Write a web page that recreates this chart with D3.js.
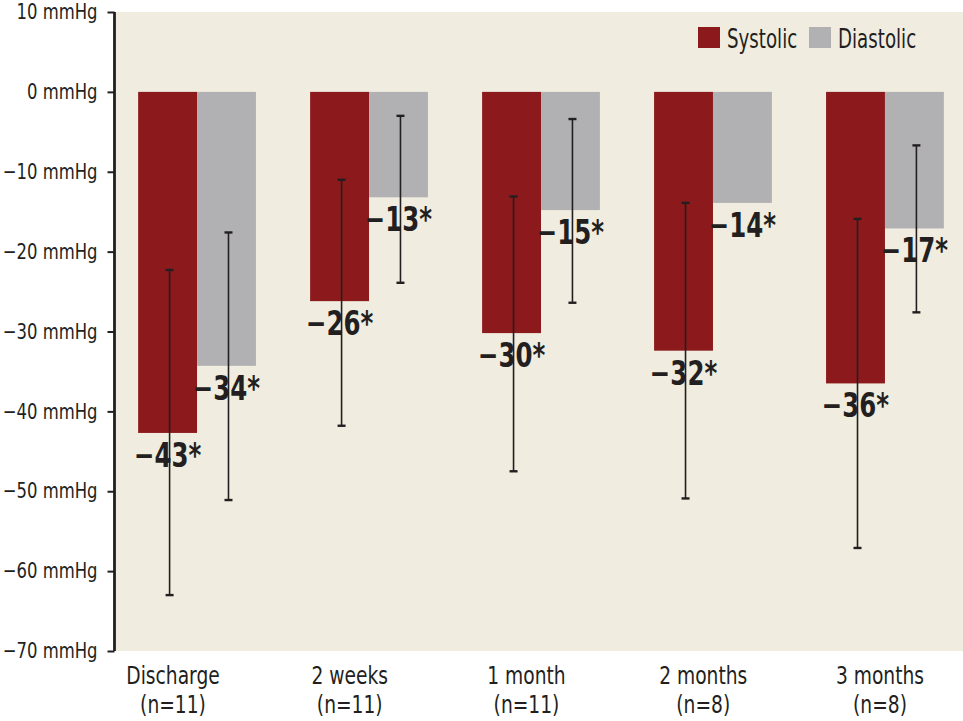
<!DOCTYPE html>
<html>
<head>
<meta charset="utf-8">
<script src="https://cdn.jsdelivr.net/npm/d3@7"></script>
<style>
  body { margin: 0; background: #fff; }
  svg text { font-family: "DejaVu Sans Condensed", "Liberation Sans Narrow", sans-serif; fill: #231f20; }
</style>
</head>
<body>
<svg id="chart" width="963" height="721"></svg>
<script>
// data
const categories = ["Discharge", "2 weeks", "1 month", "2 months", "3 months"];
const sampleSizes = ["(n=11)", "(n=11)", "(n=11)", "(n=8)", "(n=8)"];
const series = ["Systolic", "Diastolic"];
const systolic = [-42.7, -26.2, -30.2, -32.4, -36.5];
const diastolic = [-34.3, -13.2, -14.8, -13.9, -17.1];
const systolicLow = [-63.0, -41.8, -47.5, -50.9, -57.1];
const systolicHigh = [-22.3, -11.0, -13.1, -13.9, -15.9];
const diastolicLow = [-51.1, -23.9, -26.4, null, -27.6];
const diastolicHigh = [-17.6, -3.0, -3.4, null, -6.7];
const systolicLabels = ["−43*", "−26*", "−30*", "−32*", "−36*"];
const diastolicLabels = ["−34*", "−13*", "−15*", "−14*", "−17*"];
const yTicks = [10, 0, -10, -20, -30, -40, -50, -60, -70];

const colors = { Systolic: "#8c1a1c", Diastolic: "#b1b1b3" };

const svg = d3.select("#chart");
const plot = { left: 116, right: 963, top: 12, bottom: 651 };

// squeeze a text horizontally around its anchor (no condensed font of the right width here)
function squeeze(sel, s) {
  sel.each(function() {
    const t = d3.select(this);
    const tx = +t.attr("x") || 0, ty = +t.attr("y") || 0;
    t.attr("x", 0).attr("y", 0).attr("transform", `translate(${tx},${ty}) scale(${s},1)`);
  });
}

const y = d3.scaleLinear().domain([10, -70]).range([plot.top, plot.bottom]);
const x = d3.scaleBand().domain(categories).range([plot.left + 1.5, plot.right + 1.5])
  .paddingInner(0.315).paddingOuter(0.12);
const xs = d3.scaleBand().domain(series).range([0, x.bandwidth()]);
const xLabel = d3.scalePoint().domain(categories).range([173, 880]);

// plot background
svg.append("rect")
  .attr("x", plot.left).attr("y", plot.top)
  .attr("width", plot.right - plot.left).attr("height", plot.bottom - plot.top)
  .attr("fill", "#f0ede0");

const rows = categories.map((c, i) => ({
  cat: c,
  bars: [
    { s: "Systolic", v: systolic[i], lo: systolicLow[i], hi: systolicHigh[i], label: systolicLabels[i] },
    { s: "Diastolic", v: diastolic[i], lo: diastolicLow[i], hi: diastolicHigh[i], label: diastolicLabels[i] }
  ]
}));

const groups = svg.selectAll(".group")
  .data(rows)
  .enter().append("g")
    .attr("class", "group")
    .attr("transform", d => `translate(${x(d.cat)},0)`);

groups.selectAll(".bar")
  .data(d => d.bars)
  .enter().append("rect")
    .attr("class", "bar")
    .attr("x", d => xs(d.s))
    .attr("y", y(0))
    .attr("width", xs.bandwidth())
    .attr("height", d => y(d.v) - y(0))
    .attr("fill", d => colors[d.s]);

// error bars
const err = groups.selectAll(".err")
  .data(d => d.bars.filter(b => b.lo !== null))
  .enter().append("g")
    .attr("class", "err")
    .attr("stroke", "#231f20");

err.append("line")
  .attr("x1", d => xs(d.s) + xs.bandwidth() / 2 + 2)
  .attr("x2", d => xs(d.s) + xs.bandwidth() / 2 + 2)
  .attr("y1", d => y(d.hi))
  .attr("y2", d => y(d.lo))
  .attr("stroke-width", 1.6);

err.selectAll(".cap")
  .data(d => [{ s: d.s, v: d.hi }, { s: d.s, v: d.lo }])
  .enter().append("line")
    .attr("x1", d => xs(d.s) + xs.bandwidth() / 2 - 2)
    .attr("x2", d => xs(d.s) + xs.bandwidth() / 2 + 6)
    .attr("y1", d => y(d.v))
    .attr("y2", d => y(d.v))
    .attr("stroke-width", 2.4);

// value labels under each bar
groups.selectAll(".val")
  .data(d => d.bars)
  .enter().append("text")
    .attr("class", "val")
    .attr("x", d => xs(d.s) + xs.bandwidth() / 2)
    .attr("y", d => y(d.v) + 34)
    .attr("text-anchor", "middle")
    .attr("font-size", 34)
    .attr("font-weight", "bold")
    .text(d => d.label)
    .call(squeeze, 0.8);

// y axis
const yAxis = svg.append("g")
  .attr("transform", `translate(${plot.left - 1.5},0)`)
  .call(d3.axisLeft(y).tickValues(yTicks).tickSize(7).tickPadding(10)
    .tickFormat(d => (d < 0 ? "−" + Math.abs(d) : d) + " mmHg"));
yAxis.select(".domain").attr("stroke", "#231f20").attr("stroke-width", 2.8)
  .attr("d", `M0,${plot.top}V${plot.bottom}`);
yAxis.selectAll(".tick line").attr("stroke", "#231f20").attr("stroke-width", 2);
yAxis.selectAll(".tick text").attr("font-size", 21).attr("fill", "#231f20")
  .attr("font-family", "\"DejaVu Sans Condensed\", sans-serif")
  .call(squeeze, 0.87);

// x labels
const xl = svg.selectAll(".xlab")
  .data(categories)
  .enter().append("g")
    .attr("class", "xlab")
    .attr("transform", d => `translate(${xLabel(d)},0) scale(0.83,1)`);
xl.append("text").attr("text-anchor", "middle").attr("font-size", 25)
  .attr("y", 684).text(d => d);
xl.append("text").attr("text-anchor", "middle").attr("font-size", 25)
  .attr("y", 713).text((d, i) => sampleSizes[i]);

// legend
const legend = svg.append("g").attr("transform", "translate(698,27)");
const legendX = [0, 111];
const li = legend.selectAll(".leg")
  .data(series)
  .enter().append("g")
    .attr("transform", (d, i) => `translate(${legendX[i]},0)`);
li.append("rect").attr("width", 22).attr("height", 21).attr("fill", d => colors[d]);
li.append("text").attr("x", 29).attr("y", 21).attr("font-size", 27).text(d => d)
  .call(squeeze, 0.75);
</script>
</body>
</html>
